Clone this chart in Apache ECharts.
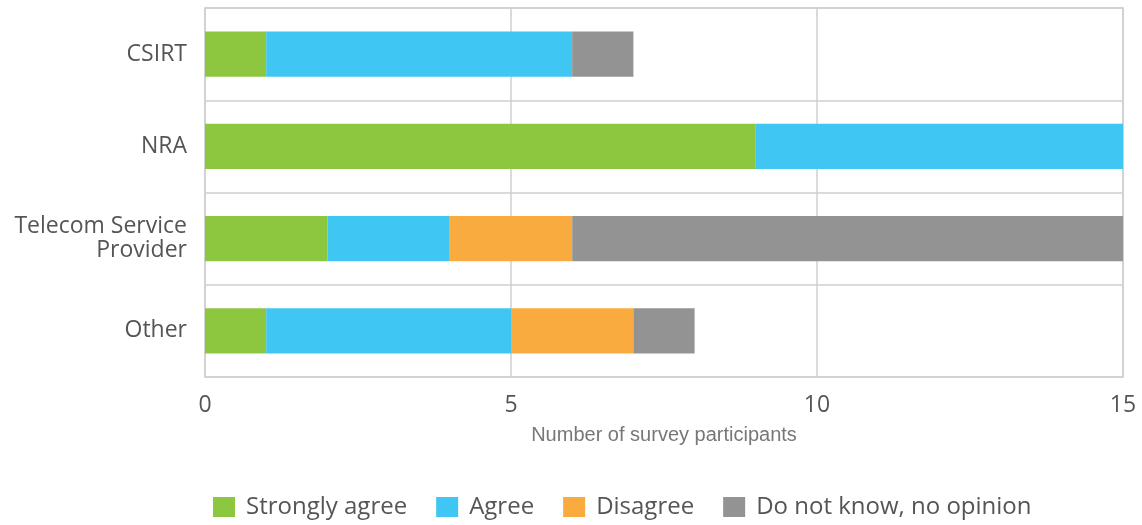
<!DOCTYPE html>
<html><head><meta charset="utf-8">
<script src="https://cdn.jsdelivr.net/npm/echarts@6/dist/echarts.min.js"></script>
<style>html,body{margin:0;padding:0;background:#fff}#c{width:1142px;height:525px}</style>
</head><body><div id="c"></div>
<script>
const categories = ['CSIRT', 'NRA', 'Telecom Service\nProvider', 'Other'];
const seriesNames = ['Strongly agree', 'Agree', 'Disagree', 'Do not know, no opinion'];
const stronglyAgree = [1, 9, 2, 1];
const agree = [5, 6, 2, 4];
const disagree = [0, 0, 2, 2];
const dontKnow = [1, 0, 9, 1];
const xTicks = [0, 5, 10, 15];
const colors = ['#8dc63f', '#40c6f2', '#f9ab3f', '#939393'];
const values = [stronglyAgree, agree, disagree, dontKnow];

const chart = echarts.init(document.getElementById('c'));
chart.setOption({
  animation: false,
  color: colors,
  grid: { left: 205, right: 19, top: 8, bottom: 148, show: true, borderColor: '#cfcfcf', borderWidth: 1.5 },
  legend: {
    top: 490, left: 208, itemWidth: 22, itemHeight: 20, itemGap: 29, icon: 'rect',
    textStyle: { fontFamily: 'Open Sans', fontSize: 24, color: '#555', padding: [0, 0, 0, 6] },
    data: seriesNames
  },
  xAxis: {
    type: 'value', min: 0, max: 15, interval: 5,
    name: 'Number of survey participants', nameLocation: 'middle', nameGap: 48,
    nameTextStyle: { fontFamily: 'Liberation Sans Narrow, Liberation Sans', fontSize: 20, color: '#777' },
    axisLine: { show: false }, axisTick: { show: false },
    axisLabel: { fontFamily: 'Open Sans', fontSize: 23, color: '#555', margin: 17,
      formatter: v => xTicks.includes(v) ? String(v) : '' },
    splitLine: { lineStyle: { color: '#cfcfcf', width: 1.5 } }
  },
  yAxis: {
    type: 'category', data: categories, inverse: true,
    axisLine: { show: false }, axisTick: { show: false },
    axisLabel: { fontFamily: 'Open Sans', fontSize: 23, color: '#555', margin: 18, lineHeight: 24, align: 'right' },
    splitLine: { show: true, lineStyle: { color: '#cfcfcf', width: 1.5 } }
  },
  series: seriesNames.map((n, i) => ({
    name: n, type: 'bar', stack: 'total', data: values[i], barWidth: '49%',
    itemStyle: { color: colors[i] }
  }))
});
</script></body></html>
